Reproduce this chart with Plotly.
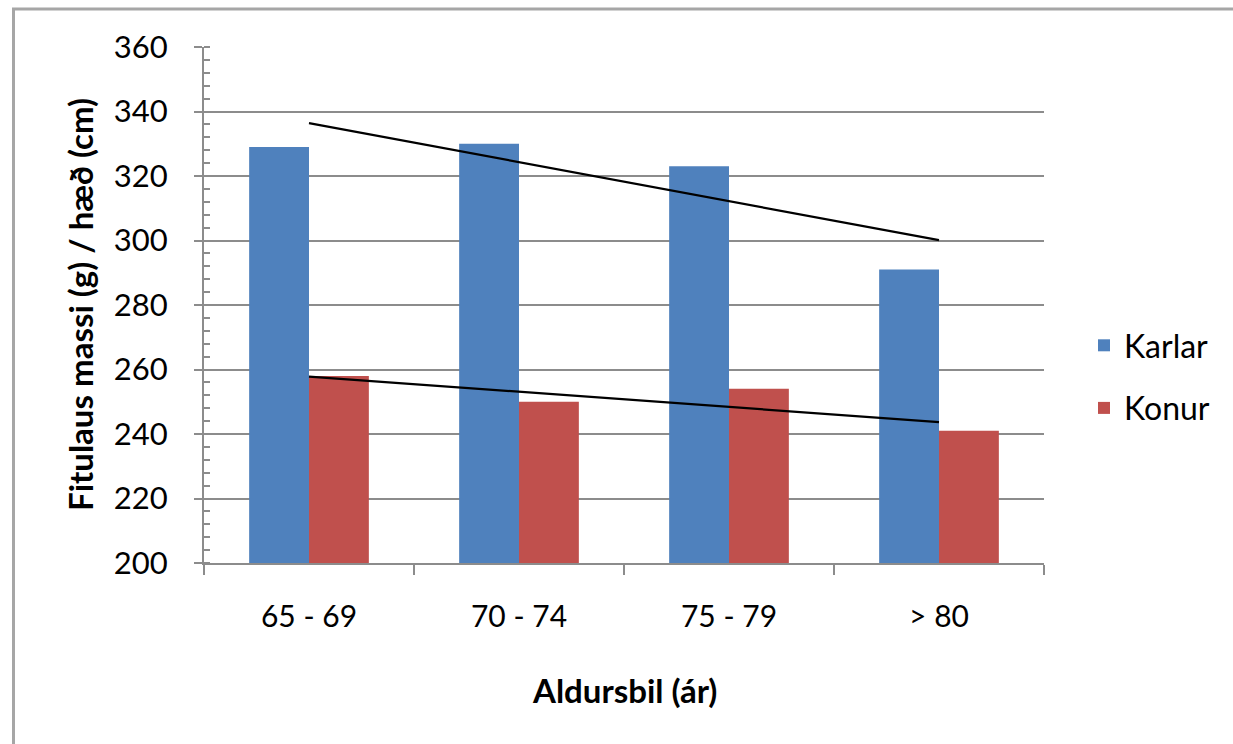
import numpy as np
import plotly.graph_objects as go

# Age groups and lean mass per height for men and women
age_groups = ["65 - 69", "70 - 74", "75 - 79", "> 80"]
karlar = [329, 330, 323, 291]
konur = [258, 250, 254, 241]

blue = "#4F81BD"
red = "#C0504D"
font_family = "Lato, 'Open Sans', sans-serif"

# Plot area geometry (pixels)
W, H = 1233, 744
L, R, T, B = 204, 189, 47, 181
pw, ph = W - L - R, H - T - B


def px_x(x):
    return (x - L) / pw


def px_y(y):
    return (H - B - y) / ph


fig = go.Figure()
fig.add_trace(go.Bar(x=age_groups, y=karlar, name="Karlar", marker_color=blue,
                     marker_line_width=0, legendgroup="k"))
fig.add_trace(go.Bar(x=age_groups, y=konur, name="Konur", marker_color=red,
                     marker_line_width=0, legendgroup="c"))

# Linear trend lines through each series
idx = np.arange(len(age_groups))
for vals in (karlar, konur):
    slope, icpt = np.polyfit(idx, vals, 1)
    fig.add_trace(go.Scatter(x=age_groups, y=slope * idx + icpt, mode="lines",
                             line=dict(color="black", width=2.2),
                             showlegend=False, hoverinfo="skip"))

grid_col = "#8c8c8c"
fig.update_layout(
    width=W, height=H,
    margin=dict(l=L, r=R, t=T, b=B, autoexpand=False),
    paper_bgcolor="white", plot_bgcolor="white",
    barmode="group", bargap=0.43, bargroupgap=0,
    font=dict(family=font_family, size=30, color="black"),
    showlegend=True,
    legend=dict(x=px_x(1084), y=px_y(377), xanchor="left", yanchor="middle",
                font=dict(size=32), tracegroupgap=18, bgcolor="rgba(0,0,0,0)"),
    xaxis=dict(showline=True, linecolor=grid_col, linewidth=2,
               ticks="outside", tickson="boundaries", ticklen=10,
               tickcolor=grid_col, tickwidth=2, ticklabelstandoff=26,
               tickfont=dict(size=30), showgrid=False, fixedrange=True),
    yaxis=dict(range=[200, 360], dtick=20, showline=True, linecolor=grid_col,
               linewidth=2, ticks="outside", ticklen=8, tickcolor=grid_col,
               tickwidth=2, showgrid=True, gridcolor=grid_col, gridwidth=2,
               ticklabelstandoff=20, tickfont=dict(size=31), zeroline=False,
               minor=dict(dtick=4, ticks="inside", ticklen=6,
                          tickcolor=grid_col, tickwidth=1.5, showgrid=False)),
    annotations=[
        dict(text="<b>Aldursbil (ár)</b>", xref="paper", yref="paper",
             x=px_x(624), y=px_y(690), showarrow=False,
             font=dict(size=33), xanchor="center", yanchor="middle"),
        dict(text="<b>Fitulaus massi (g) / hæð (cm)</b>", xref="paper",
             yref="paper", x=px_x(80), y=0.5, textangle=-90,
             showarrow=False, font=dict(size=33),
             xanchor="center", yanchor="middle"),
    ],
    shapes=[
        # chart area frame (left and top edges)
        dict(type="line", xref="paper", yref="paper",
             x0=px_x(13.5), x1=px_x(13.5), y0=px_y(9), y1=px_y(H + 40),
             line=dict(color="#a6a6a6", width=3)),
        dict(type="line", xref="paper", yref="paper",
             x0=px_x(12), x1=px_x(W + 40), y0=px_y(9), y1=px_y(9),
             line=dict(color="#a6a6a6", width=3)),
    ],
)

fig.write_html("out.html", config={"displayModeBar": False})
